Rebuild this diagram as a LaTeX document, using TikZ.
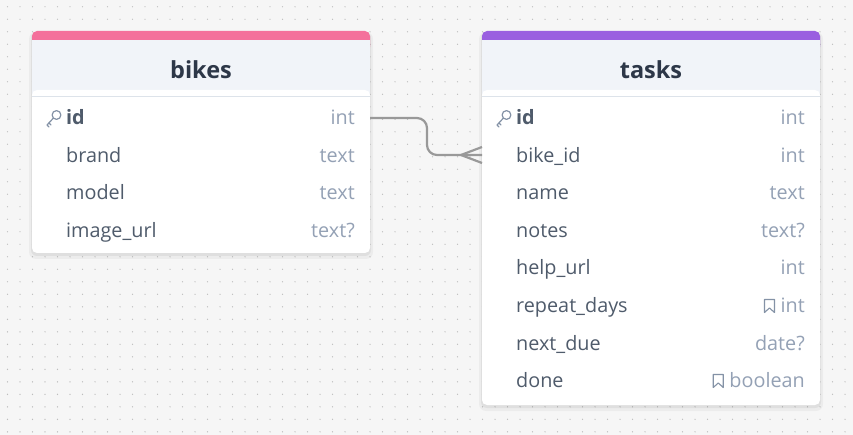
\documentclass[tikz,border=0pt]{standalone}
\usepackage{fontspec}
\setmainfont{Open Sans}
\usepackage{tikz}
\usepackage{xcolor}
\definecolor{bgc}{HTML}{F6F6F6}
\definecolor{dotc}{HTML}{BDBDBD}
\definecolor{pinkc}{HTML}{F4709B}
\definecolor{purplec}{HTML}{9A5FE0}
\definecolor{headc}{HTML}{F1F4F9}
\definecolor{linec}{HTML}{DDE3EA}
\definecolor{titlec}{HTML}{2D3748}
\definecolor{fieldc}{HTML}{4F5B6B}
\definecolor{typec}{HTML}{94A1B5}
\definecolor{iconc}{HTML}{8492A6}
\definecolor{connc}{HTML}{999999}

\tikzset{
  title/.style={anchor=base, inner sep=0pt, text=titlec, font=\bfseries\fontsize{23.5}{26}\selectfont},
  fname/.style={anchor=base west, inner sep=0pt, text=fieldc, font=\fontsize{19.8}{22}\selectfont},
  ftype/.style={anchor=base east, inner sep=0pt, text=typec, font=\fontsize{19.8}{22}\selectfont},
  conn/.style={draw=connc, line width=2.2pt, rounded corners=10pt},
  keyicon/.style={draw=iconc, line width=1.2pt, line cap=round, line join=round},
  markicon/.style={draw=iconc, line width=1.1pt, line join=round},
}

\begin{document}
\begin{tikzpicture}[x=1pt, y=-1pt]
\useasboundingbox (0,0) rectangle (853,435);

% Background with dot grid
\fill[bgc] (0,0) rectangle (853,435);
\foreach \i in {0,...,68}
  \foreach \j in {0,...,34}
    \fill[dotc] (7.5+12.5*\i, 6.8+12.5*\j) circle (0.7);

% Shadows
\fill[black, opacity=0.04, rounded corners=7] (29,32) rectangle (373,259);
\fill[black, opacity=0.05, rounded corners=6] (31,32) rectangle (371,256);
\fill[black, opacity=0.04, rounded corners=7] (479,32) rectangle (823,411);
\fill[black, opacity=0.05, rounded corners=6] (481,32) rectangle (821,408);

% Bikes table
\fill[pinkc, rounded corners=5] (32,31) rectangle (370,52);
\fill[headc] (32,40) rectangle (370,96);
\fill[white, rounded corners=5] (32,90) rectangle (370,253);
\fill[white] (32,97) rectangle (370,110);
\draw[linec, line width=1pt] (32,96.5) -- (370,96.5);
\node[title] (bikes) at (201,79) {bikes};

\node[fname] (bikes-id) at (66,125) {\textbf{id}};
\node[ftype] (bikes-id-t) at (355,125) {int};
\node[fname] (bikes-brand) at (66,162.5) {brand};
\node[ftype] (bikes-brand-t) at (355,162.5) {text};
\node[fname] (bikes-model) at (66,200) {model};
\node[ftype] (bikes-model-t) at (355,200) {text};
\node[fname] (bikes-image) at (66,237.5) {image\_url};
\node[ftype] (bikes-image-t) at (355,237.5) {text?};

% Tasks table
\fill[purplec, rounded corners=5] (482,31) rectangle (820,52);
\fill[headc] (482,40) rectangle (820,96);
\fill[white, rounded corners=5] (482,90) rectangle (820,405);
\fill[white] (482,97) rectangle (820,110);
\draw[linec, line width=1pt] (482,96.5) -- (820,96.5);
\node[title] (tasks) at (651,79) {tasks};

\node[fname] (tasks-id) at (516,125) {\textbf{id}};
\node[ftype] (tasks-id-t) at (805,125) {int};
\node[fname] (tasks-bike) at (516,162.5) {bike\_id};
\node[ftype] (tasks-bike-t) at (805,162.5) {int};
\node[fname] (tasks-name) at (516,200) {name};
\node[ftype] (tasks-name-t) at (805,200) {text};
\node[fname] (tasks-notes) at (516,237.5) {notes};
\node[ftype] (tasks-notes-t) at (805,237.5) {text?};
\node[fname] (tasks-help) at (516,275) {help\_url};
\node[ftype] (tasks-help-t) at (805,275) {int};
\node[fname] (tasks-repeat) at (516,312.5) {repeat\_days};
\node[ftype] (tasks-repeat-t) at (805,312.5) {int};
\node[fname] (tasks-next) at (516,350) {next\_due};
\node[ftype] (tasks-next-t) at (805,350) {date?};
\node[fname] (tasks-done) at (516,387.5) {done};
\node[ftype] (tasks-done-t) at (805,387.5) {boolean};

% Key icons
\foreach \kx in {56.5,506.5} {
  \draw[keyicon] (\kx,115) circle (4.4);
  \draw[keyicon] (\kx-3.2,118.2) -- (\kx-9.5,125) -- (\kx-7.5,127);
  \draw[keyicon] (\kx-7.5,123) -- (\kx-5.5,125);
}

% Bookmark icons
\draw[markicon] ([xshift=-6]tasks-repeat-t.base west) ++(-10,-13) -- ++(10,0) -- ++(0,13) -- ++(-5,-4.5) -- ++(-5,4.5) -- cycle;
\draw[markicon] ([xshift=-6]tasks-done-t.base west) ++(-10,-13) -- ++(10,0) -- ++(0,13) -- ++(-5,-4.5) -- ++(-5,4.5) -- cycle;

% Relation bikes.id -> tasks.bike_id
\coordinate (bikes-id-r) at (370,118);
\coordinate (tasks-bike-l) at (482,155);
\coordinate (fan) at (461,155);
\draw[conn] (bikes-id-r) -- (427,118) -- (427,155) -- (tasks-bike-l);
\draw[connc, line width=2.2pt] (fan) -- (tasks-bike-l |- 0,147);
\draw[connc, line width=2.2pt] (fan) -- (tasks-bike-l |- 0,163);
\end{tikzpicture}
\end{document}
